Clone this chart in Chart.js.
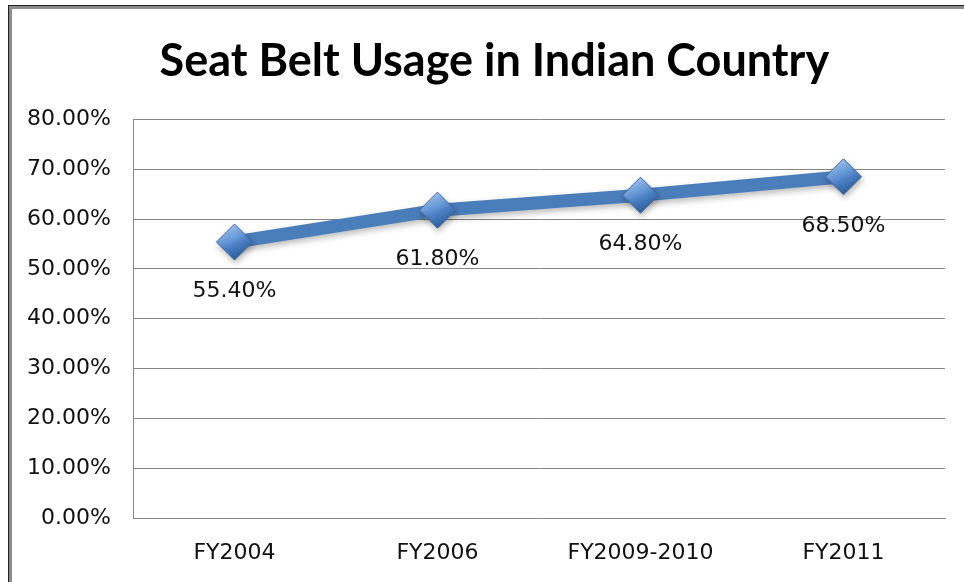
<!DOCTYPE html>
<html>
<head>
<meta charset="utf-8">
<script src="https://cdn.jsdelivr.net/npm/chart.js@4.4.1/dist/chart.umd.min.js"></script>
<style>
  html, body { margin: 0; padding: 0; background: #fff; overflow: hidden; }
  #wrap { position: relative; width: 964px; height: 582px; overflow: hidden; }
  #frame {
    position: absolute; left: 8px; top: 5px; width: 1000px; height: 700px;
    border-left: 1px solid #222; border-top: 1px solid #222;
    pointer-events: none;
  }
  #frame div {
    position: absolute; left: 0; top: 0; right: 0; bottom: 0;
    border-left: 3px solid #8c8c8c; border-top: 3px solid #8c8c8c;
  }
</style>
</head>
<body>
<div id="wrap">
  <canvas id="chart" width="964" height="582"></canvas>
  <div id="frame"><div></div></div>
</div>
<script>
const log = console.log;

const chartTitle = 'Seat Belt Usage in Indian Country';
const categories = ['FY2004', 'FY2006', 'FY2009-2010', 'FY2011'];
const usage = [55.4, 61.8, 64.8, 68.5];
const yTicks = { min: 0, max: 80, step: 10 };

const fmtPct = (v) => Number(v).toFixed(2) + '%';
const labelFont = { family: "'DejaVu Sans', sans-serif", size: 22 };

// diamond fill: lighter on top, darker below
const markerFill = (ctx) => {
  const chart = ctx.chart;
  const sx = chart.scales && chart.scales.x;
  const sy = chart.scales && chart.scales.y;
  if (!sx || !sy || ctx.raw === undefined) return '#4f81bd';
  const x = sx.getPixelForValue(ctx.dataIndex);
  const y = sy.getPixelForValue(ctx.raw);
  if (!isFinite(x) || !isFinite(y)) return '#4f81bd';
  const g = chart.ctx.createLinearGradient(x - 10, y - 18, x + 6, y + 18);
  g.addColorStop(0, '#b4d0f2');
  g.addColorStop(0.4, '#6b9ddc');
  g.addColorStop(0.6, '#4a7fc3');
  g.addColorStop(1, '#2a5894');
  return g;
};

// soft shadow under line + markers
const shadowPlugin = {
  id: 'shadow',
  beforeDatasetDraw(chart) {
    const c = chart.ctx;
    c.save();
    c.shadowColor = 'rgba(0,0,0,0.28)';
    c.shadowBlur = 6;
    c.shadowOffsetX = 1;
    c.shadowOffsetY = 3;
  },
  afterDatasetDraw(chart) {
    chart.ctx.restore();
  },
};

// value labels under each point
const valueLabels = {
  id: 'valueLabels',
  afterDatasetsDraw(chart) {
    const c = chart.ctx;
    const meta = chart.getDatasetMeta(0);
    c.save();
    c.font = `${labelFont.size}px ${labelFont.family}`;
    c.fillStyle = '#111';
    c.textAlign = 'center';
    c.textBaseline = 'middle';
    meta.data.forEach((pt, i) => {
      c.fillText(fmtPct(usage[i]), pt.x, pt.y + 49);
    });
    c.restore();
  },
};

const chart = new Chart(document.getElementById('chart').getContext('2d'), {
  type: 'line',
  data: {
    labels: categories,
    datasets: [
      {
        label: 'Seat Belt Usage',
        data: usage,
        borderColor: '#4a7ebb',
        borderWidth: 13,
        tension: 0,
        pointStyle: 'rectRot',
        pointRadius: 18,
        pointHoverRadius: 18,
        pointBackgroundColor: markerFill,
        pointBorderColor: '#3a679f',
        pointBorderWidth: 1,
      },
    ],
  },
  options: {
    responsive: false,
    animation: false,
    layout: { padding: { left: 0, right: 19, top: 0, bottom: 0 } },
    plugins: {
      legend: { display: false },
      tooltip: { enabled: false },
      title: {
        display: true,
        // leading spaces nudge the centred title right, like the original
        text: '    ' + chartTitle,
        color: '#000',
        font: { family: "Lato, 'Liberation Sans', sans-serif", size: 45, weight: 'bold', lineHeight: 1.1 },
        padding: { top: 37, bottom: 33 },
      },
    },
    scales: {
      x: {
        offset: true,
        grid: { display: false, drawTicks: false },
        border: { display: true, color: '#868686', width: 1 },
        ticks: { color: '#111', font: labelFont, padding: 22 },
        afterFit: (s) => { s.height = 64; },
      },
      y: {
        min: yTicks.min,
        max: yTicks.max,
        grid: { color: '#868686', lineWidth: 1, drawTicks: false },
        border: { display: true, color: '#868686', width: 1 },
        ticks: {
          stepSize: yTicks.step,
          color: '#111',
          font: labelFont,
          padding: 22,
          callback: (v) => fmtPct(v),
        },
        afterFit: (s) => { s.width = 133; },
      },
    },
  },
  plugins: [shadowPlugin, valueLabels],
});
chart.update();
log(chart.chartArea);
</script>
</body>
</html>
